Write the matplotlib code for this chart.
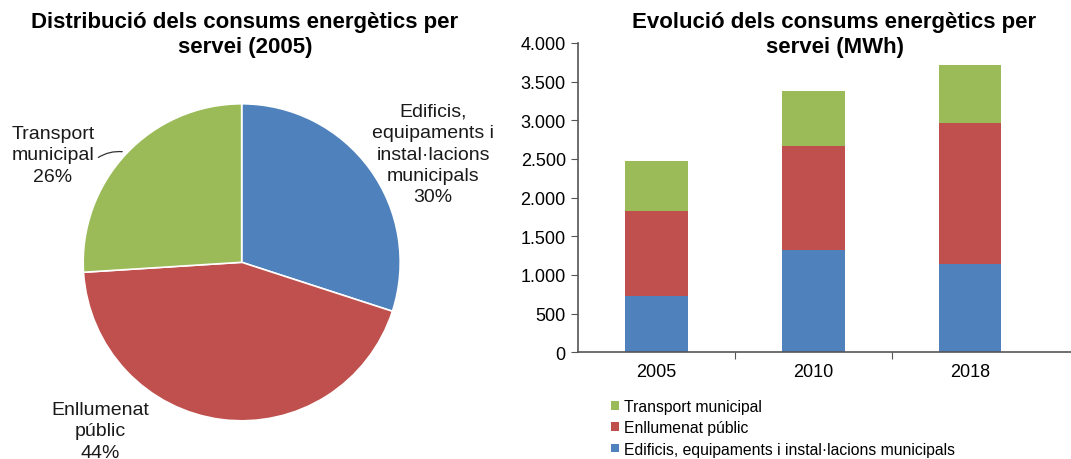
import matplotlib
matplotlib.use("Agg")
import matplotlib.pyplot as plt
from matplotlib.ticker import FuncFormatter

plt.rcParams['font.family'] = ['Liberation Sans', 'DejaVu Sans']

# data
years = ["2005", "2010", "2018"]
edificis = [732, 1320, 1140]
enllumenat = [1100, 1345, 1820]
transport = [640, 718, 758]

pie_labels = ["Edificis,\nequipaments i\ninstal·lacions\nmunicipals", "Enllumenat\npúblic", "Transport\nmunicipal"]
pie_pct = [30, 44, 26]

blue = "#4F81BD"
red = "#C0504D"
green = "#9BBB59"

fig = plt.figure(figsize=(10.71, 4.6), dpi=100)
W, H = 1071.0, 460.0

# pie
r = 158.5
cx, cy = 241.7, 263.3
axp = fig.add_axes([(cx - r) / W, (H - cy - r) / H, 2 * r / W, 2 * r / H])
axp.pie(pie_pct, colors=[blue, red, green], startangle=90, counterclock=False,
        radius=1, wedgeprops=dict(edgecolor="white", linewidth=1.2))
axp.set_xlim(-1, 1)
axp.set_ylim(-1, 1)
axp.set_aspect("equal")
axp.axis("off")

def to_pie(px, py):
    return (px - cx) / r, (cy - py) / r

lab_pos = [(433, 155), (100, 432), (53, 156)]
for lab, pct, (px, py) in zip(pie_labels, pie_pct, lab_pos):
    x, y = to_pie(px, py)
    axp.text(x, y, f"{lab}\n{pct}%", ha="center", va="center", fontsize=14,
             linespacing=1.33, color="#1a1a1a", clip_on=False)
x0, y0 = to_pie(96, 160)
x1, y1 = to_pie(125, 153)
axp.annotate("", xy=(x1, y1), xytext=(x0, y0),
             arrowprops=dict(arrowstyle="-", color="#333333", lw=0.9,
                             connectionstyle="arc3,rad=-0.2"),
             annotation_clip=False)

fig.text(245 / W, 1 - 35 / H, "Distribució dels consums energètics per\nservei (2005)",
         ha="center", va="center", fontsize=16, fontweight="bold", linespacing=1.3)

# bars
left = 578.3
catw = 156.7
bottom_px, top_px = 353.3, 44.0
right_px = 1075
axb = fig.add_axes([left / W, 1 - bottom_px / H, (right_px - left) / W, (bottom_px - top_px) / H])
xs = range(len(years))
b1 = axb.bar(xs, edificis, width=0.4, color=blue, label="Edificis, equipaments i instal·lacions municipals")
b2 = axb.bar(xs, enllumenat, width=0.4, bottom=edificis, color=red, label="Enllumenat públic")
base = [a + b for a, b in zip(edificis, enllumenat)]
b3 = axb.bar(xs, transport, width=0.4, bottom=base, color=green, label="Transport municipal")
axb.set_xlim(-0.5, -0.5 + (right_px - left) / catw)
axb.set_ylim(0, 4000)
axb.set_yticks(range(0, 4001, 500))
axb.yaxis.set_major_formatter(FuncFormatter(lambda v, p: f"{int(v):,}".replace(",", ".")))
axb.set_xticks([0.5, 1.5], minor=False)
axb.set_xticklabels([])
axb.set_xticks(list(xs), minor=True)
axb.set_xticklabels(years, minor=True)
axb.tick_params(axis="x", which="minor", length=0, labelsize=13, pad=8)
axb.tick_params(axis="x", which="major", length=5, direction="out", color="#555555")
axb.tick_params(axis="y", length=5, direction="out", labelsize=13, color="#555555", pad=4)
for s in ["top", "right"]:
    axb.spines[s].set_visible(False)
for s in ["left", "bottom"]:
    axb.spines[s].set_color("#555555")
    axb.spines[s].set_linewidth(1.2)

axb.legend(handles=[b3, b2, b1], loc="upper left", bbox_to_anchor=(611 / W, 1 - 400 / H),
           bbox_transform=fig.transFigure, frameon=False, fontsize=11.3,
           handlelength=0.5, handleheight=0.5, handletextpad=0.3, labelspacing=0.4,
           borderaxespad=0, borderpad=0)

fig.text(834.5 / W, 1 - 35 / H, "Evolució dels consums energètics per\nservei (MWh)",
         ha="center", va="center", fontsize=16, fontweight="bold", linespacing=1.3)

fig.savefig("out.png", dpi=100, facecolor="white")
